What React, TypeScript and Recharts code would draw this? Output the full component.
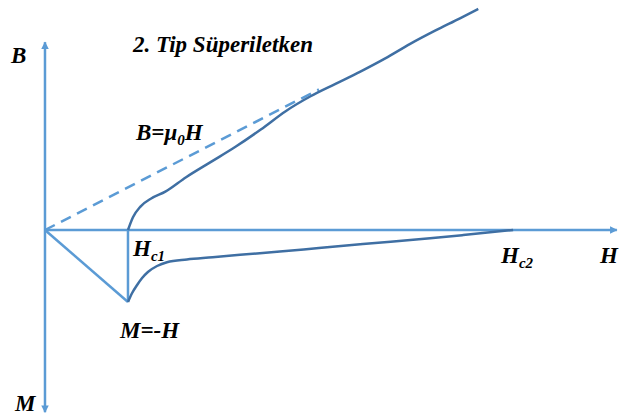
import React from 'react';
import { ComposedChart, Line, XAxis, YAxis, ReferenceLine } from 'recharts';

// Field H in units of Hc1; B and M each on their own scale
const H_C1 = 1;
const H_C2 = 5.64;

// Mixed-state induction B(H) above Hc1
const mixedH = [1.0, 1.06, 1.15, 1.28, 1.45, 1.7, 2.0, 2.3, 2.6, 2.9, 3.2, 3.5, 3.8, 4.1, 4.4, 4.7, 5.0, 5.22];
const mixedB = [0, 0.3, 0.55, 0.74, 0.9, 1.24, 1.6, 1.96, 2.36, 2.79, 3.14, 3.43, 3.72, 4.03, 4.37, 4.68, 4.97, 5.19];

// Magnetisation M(H) between Hc1 and Hc2
const magH = [1.0, 1.05, 1.11, 1.17, 1.24, 1.35, 1.47, 1.71, 2.02, 2.35, 2.83, 3.3, 3.83, 4.64, 5.04, H_C2];
const magM = [-1.0, -0.875, -0.764, -0.667, -0.583, -0.5, -0.447, -0.41, -0.38, -0.345, -0.3, -0.25, -0.195, -0.115, -0.07, 0];

// B = mu0 H reference line (dashed)
const vacuumH = [0, 3.3];
const vacuumB = [0, 3.3];

// Meissner state M = -H up to Hc1, then the drop back to zero
const meissnerH = [0, H_C1];
const meissnerM = [0, -1];
const dropH = [H_C1, H_C1];
const dropM = [0, -1];

// arrow axis extents
const H_AXIS_END = 6.89;
const B_AXIS_TOP = 4.41;
const M_AXIS_BOTTOM = -2.53;

const bCurve = mixedH.map((h, i) => ({ h, b: mixedB[i] }));
const mCurve = magH.map((h, i) => ({ h, m: magM[i] }));
const vacuum = vacuumH.map((h, i) => ({ h, b: vacuumB[i] }));
const meissner = meissnerH.map((h, i) => ({ h, m: meissnerM[i] }));
const drop = dropH.map((h, i) => ({ h, m: dropM[i] }));

const AXIS_BLUE = '#5b9bd5';
const CURVE_BLUE = '#3f6fa3';
const FONT = 'Liberation Serif, Times New Roman, serif';

const arrowShape = (props: any) => (
  <line
    x1={props.x1}
    y1={props.y1}
    x2={props.x2}
    y2={props.y2}
    stroke={AXIS_BLUE}
    strokeWidth={2.5}
    markerEnd="url(#arrowHead)"
  />
);

const Label = ({ x, y, children }: { x: number; y: number; children: React.ReactNode }) => (
  <text x={x} y={y} fontFamily={FONT} fontWeight="bold" fontStyle="italic" fontSize={23} fill="#000">
    {children}
  </text>
);

export default function App() {
  return (
    <div style={{ position: 'absolute', left: 0, top: 0, width: 619, height: 417, background: '#fff' }}>
      <ComposedChart width={619} height={417} margin={{ top: 0, right: 0, bottom: 0, left: 0 }}>
        <defs>
          <marker id="arrowHead" viewBox="0 0 10 10" refX="9" refY="5" markerWidth="3.4" markerHeight="3" orient="auto">
            <path d="M0,0 L10,5 L0,10 z" fill={AXIS_BLUE} />
          </marker>
        </defs>
        <XAxis type="number" dataKey="h" domain={[-0.542, 6.916]} allowDataOverflow hide />
        <YAxis yAxisId="B" type="number" domain={[-4.39, 5.4]} allowDataOverflow hide />
        <YAxis yAxisId="M" type="number" domain={[-2.597, 3.194]} allowDataOverflow hide />

        <ReferenceLine yAxisId="B" segment={[{ x: 0, y: 0 }, { x: H_AXIS_END, y: 0 }]} shape={arrowShape} ifOverflow="visible" />
        <ReferenceLine yAxisId="B" segment={[{ x: 0, y: 0 }, { x: 0, y: B_AXIS_TOP }]} shape={arrowShape} ifOverflow="visible" />
        <ReferenceLine yAxisId="M" segment={[{ x: 0, y: 0 }, { x: 0, y: M_AXIS_BOTTOM }]} shape={arrowShape} ifOverflow="visible" />

        <Line yAxisId="B" data={vacuum} dataKey="b" type="linear" stroke={AXIS_BLUE} strokeWidth={2.5}
          strokeDasharray="11 7" dot={false} activeDot={false} isAnimationActive={false} />
        <Line yAxisId="M" data={meissner} dataKey="m" type="linear" stroke={AXIS_BLUE} strokeWidth={2.5}
          dot={false} activeDot={false} isAnimationActive={false} />
        <Line yAxisId="M" data={drop} dataKey="m" type="linear" stroke={AXIS_BLUE} strokeWidth={2.5}
          dot={false} activeDot={false} isAnimationActive={false} />
        <Line yAxisId="B" data={bCurve} dataKey="b" type="monotone" stroke={CURVE_BLUE} strokeWidth={2.5}
          dot={false} activeDot={false} isAnimationActive={false} />
        <Line yAxisId="M" data={mCurve} dataKey="m" type="monotone" stroke={CURVE_BLUE} strokeWidth={2.5}
          dot={false} activeDot={false} isAnimationActive={false} />
      </ComposedChart>

      <svg width={619} height={417} style={{ position: 'absolute', left: 0, top: 0, pointerEvents: 'none' }}>
        <Label x={133} y={52}>2. Tip Süperiletken</Label>
        <Label x={11} y={63}>B</Label>
        <Label x={136} y={140}>
          B=μ<tspan dy={5} fontSize={15}>0</tspan><tspan dy={-5}>H</tspan>
        </Label>
        <Label x={133} y={256}>
          H<tspan dy={5} fontSize={15}>c1</tspan>
        </Label>
        <Label x={501} y={263}>
          H<tspan dy={5} fontSize={15}>c2</tspan>
        </Label>
        <Label x={600} y={263}>H</Label>
        <Label x={120} y={338}>M=-H</Label>
        <Label x={15} y={411}>M</Label>
      </svg>
    </div>
  );
}
